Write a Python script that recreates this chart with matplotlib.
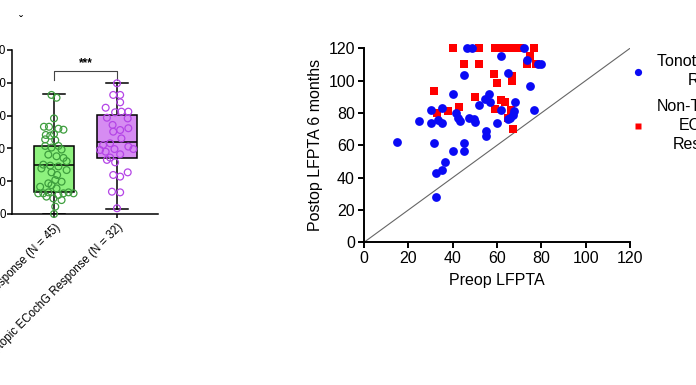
import numpy as np
import matplotlib.pyplot as plt
from matplotlib.lines import Line2D

plt.rcParams['font.family'] = ['Liberation Sans', 'DejaVu Sans']


#%% Data - left panel (box plot, only partly visible in the figure)
box_labels   = ['Tonotopic ECochG Response (N = 45)', 'Non-Tonotopic ECochG Response (N = 32)']
box_min      = [0.0, 3.0]
box_q1       = [13.6, 34.3]
box_med      = [29.9, 43.7]
box_q3       = [41.6, 60.4]
box_max      = [73.0, 79.7]
box_yticks   = [0, 20, 40, 60, 80, 100]

tono_vals    = [72.6, 70.9, 58.3, 53.2, 53.2, 52.0, 51.4, 48.2, 47.8, 48.8,
                45.5, 45.0, 41.5, 40.5, 41.5, 39.3, 36.2, 35.2, 34.2, 32.2,
                30.1, 29.5, 29.0, 27.8, 26.8, 25.4, 23.8, 20.7, 18.7, 19.7,
                16.6, 17.6, 15.6, 12.6, 12.6, 13.2, 11.6, 12.6, 13.2, 12.6,
                10.6, 9.5, 4.5, 0.0, 8.5]
tono_jit     = [-0.04, 0.04, 0.00, -0.16, -0.08, 0.07, 0.15, -0.13, -0.06, 0.00,
                -0.14, 0.02, -0.14, -0.04, 0.07, 0.12, -0.09, 0.04, 0.15, 0.20,
                -0.17, -0.06, 0.07, -0.20, 0.20, -0.04, 0.05, 0.02, -0.09, 0.12,
                -0.22, -0.04, 0.04, -0.25, -0.17, -0.09, 0.07, 0.15, 0.23, 0.31,
                -0.12, -0.01, 0.02, 0.00, 0.12]

nontono_vals = [79.7, 72.6, 72.6, 68.1, 64.8, 62.0, 62.4, 62.4, 58.7, 58.3,
                54.3, 52.3, 51.2, 50.2, 46.1, 43.1, 42.1, 41.1, 39.6, 39.0,
                39.6, 38.0, 36.4, 34.4, 33.0, 31.5, 25.4, 23.8, 22.8, 13.6,
                13.2, 3.5]
nontono_jit  = [0.00, -0.06, 0.05, 0.05, -0.18, -0.03, 0.07, 0.18, -0.16, 0.17,
                -0.07, 0.18, 0.05, -0.06, 0.07, -0.11, -0.22, 0.18, -0.04, -0.27,
                0.26, -0.18, 0.05, -0.11, -0.16, -0.03, 0.17, -0.06, 0.05, -0.08,
                0.05, 0.00]

sig_text     = '***'
sig_y        = 87.4
sig_drop     = 81.7


#%% Data - right panel (Preop vs Postop LFPTA)
tono_pre     = [15, 25, 30, 30, 31.7, 32.5, 35, 32.5, 33.4, 35,
                35.2, 36.7, 40, 40, 41.5, 42.4, 43.5, 45, 45, 45,
                46.5, 48.5, 47.5, 49.5, 50.3, 51.8, 54.6, 56.8, 56.5, 55,
                55, 60, 61.8, 61.8, 65, 65, 66, 67, 67.8, 68,
                72, 73.5, 75, 76.5, 78.5, 80]
tono_post    = [62, 75, 82, 73.5, 61.6, 43, 44.5, 28.2, 75.5, 73.5,
                83.3, 49.7, 91.8, 56.5, 80, 77, 75, 103.3, 61.6, 56.7,
                120, 120, 77, 76, 74.6, 85, 88.6, 87, 92, 69,
                65.5, 73.5, 115.5, 81.8, 105, 76, 77, 78.7, 81, 86.8,
                120, 113, 96.7, 81.8, 110, 110]

non_pre      = [31.5, 33, 38, 40, 43, 45, 50, 51.8, 51.8, 59,
                61, 63, 65, 67, 69, 70.5, 76.5, 75, 73.5, 77.5,
                58.5, 60, 66.8, 66.8, 61.8, 63.5, 59, 66.5, 65, 67]
non_post     = [93.5, 80, 81.5, 120, 83.5, 110, 90, 120, 110, 120,
                120, 120, 120, 120, 120, 120, 120, 115, 110, 110,
                104, 98.5, 103, 99.5, 88, 87, 82.5, 82, 77, 70]

ident_line   = [0, 120]
lf_ticks     = [0, 20, 40, 60, 80, 100, 120]
leg_labels   = ['Tonotopic ECochG\nResponse', 'Non-Tonotopic\nECochG\nResponse']


#%% Figure
W, H = 696, 385
fig  = plt.figure(figsize=(W/100, H/100), dpi=100)

green_fill, green_edge   = '#8ef27e', '#3e9e3e'
purple_fill, purple_edge = '#d68cf2', '#b445e6'
c_blue, c_red            = '#0a0af5', '#ff0000'


#%% Left panel
ax1 = fig.add_axes([12/W, 1 - 214/H, 146/W, 164/H])
stats = []
for i in range(2):
    stats.append(dict(whislo=box_min[i], q1=box_q1[i], med=box_med[i],
                      q3=box_q3[i], whishi=box_max[i], fliers=[]))
bp = ax1.bxp(stats, positions=[1, 2], widths=0.64, capwidths=0.35, patch_artist=True,
             showfliers=False,
             boxprops=dict(edgecolor='black', linewidth=1.1),
             medianprops=dict(color='black', linewidth=1.1),
             whiskerprops=dict(color='black', linewidth=1.1),
             capprops=dict(color='black', linewidth=1.1))
bp['boxes'][0].set_facecolor(green_fill)
bp['boxes'][1].set_facecolor(purple_fill)

ax1.scatter(1 + np.array(tono_jit), tono_vals, s=24, facecolors='none',
            edgecolors=green_edge, linewidths=0.9, zorder=3, clip_on=False)
ax1.scatter(2 + np.array(nontono_jit), nontono_vals, s=24, facecolors='none',
            edgecolors=purple_edge, linewidths=0.9, zorder=3, clip_on=False)

# significance bracket
ax1.plot([1, 1, 2, 2], [sig_drop, sig_y, sig_y, sig_drop], color='#444444', lw=0.8, clip_on=False)
ax1.text(1.5, sig_y + 1.0, sig_text, ha='center', va='bottom', fontsize=8.5, fontweight='bold')

ax1.set_xlim(1 - 42/63, 2 + 41/63)
ax1.set_ylim(0, 100)
ax1.set_yticks(box_yticks)
ax1.set_yticklabels([str(v) for v in box_yticks])
ax1.set_xticks([1, 2])
ax1.set_xticklabels(box_labels, rotation=45, ha='right', rotation_mode='anchor')
ax1.tick_params(axis='y', length=3.5, width=1.1, pad=0.8, labelsize=8.3)
ax1.tick_params(axis='x', length=3, width=1.1, pad=2.5, labelsize=8.3)
for s in ['top', 'right']:
    ax1.spines[s].set_visible(False)
for s in ['left', 'bottom']:
    ax1.spines[s].set_linewidth(1.1)

fig.text(21/W, 1 - 22/H, 'ˇ', fontsize=9, ha='center', va='center')


#%% Right panel
ax2 = fig.add_axes([364/W, 1 - 242.3/H, 266/W, 194/H])
ax2.plot(ident_line, ident_line, color='#666666', lw=0.8, zorder=1)
ax2.scatter(non_pre, non_post, marker='s', s=32, color=c_red, linewidths=0,
            zorder=2, clip_on=False)
ax2.scatter(tono_pre, tono_post, marker='o', s=40, color=c_blue, linewidths=0,
            zorder=3, clip_on=False)

ax2.set_xlim(0, 120)
ax2.set_ylim(0, 120)
ax2.set_xticks(lf_ticks)
ax2.set_yticks(lf_ticks)
ax2.tick_params(length=4.5, width=1.4, labelsize=11.5, pad=2)
for s in ['top', 'right']:
    ax2.spines[s].set_visible(False)
for s in ['left', 'bottom']:
    ax2.spines[s].set_linewidth(1.4)
ax2.set_xlabel('Preop LFPTA', fontsize=11.5, labelpad=5)
ax2.set_ylabel('Postop LFPTA 6 months', fontsize=11.5, labelpad=4)

handles = [Line2D([], [], ls='none', marker='o', ms=5.2, mfc=c_blue, mec='none'),
           Line2D([], [], ls='none', marker='s', ms=4.6, mfc=c_red, mec='none')]
leg = ax2.legend(handles, leg_labels,
                 loc='upper left', bbox_to_anchor=(630/W, 1 - 54/H), bbox_transform=fig.transFigure,
                 frameon=False, fontsize=11.5, borderpad=0, borderaxespad=0,
                 handlelength=1.0, handletextpad=0.69, labelspacing=0.65)
for t in leg.get_texts():
    t.set_multialignment('center')
    t.set_linespacing(1.35)

fig.savefig('out.png', dpi=100)
